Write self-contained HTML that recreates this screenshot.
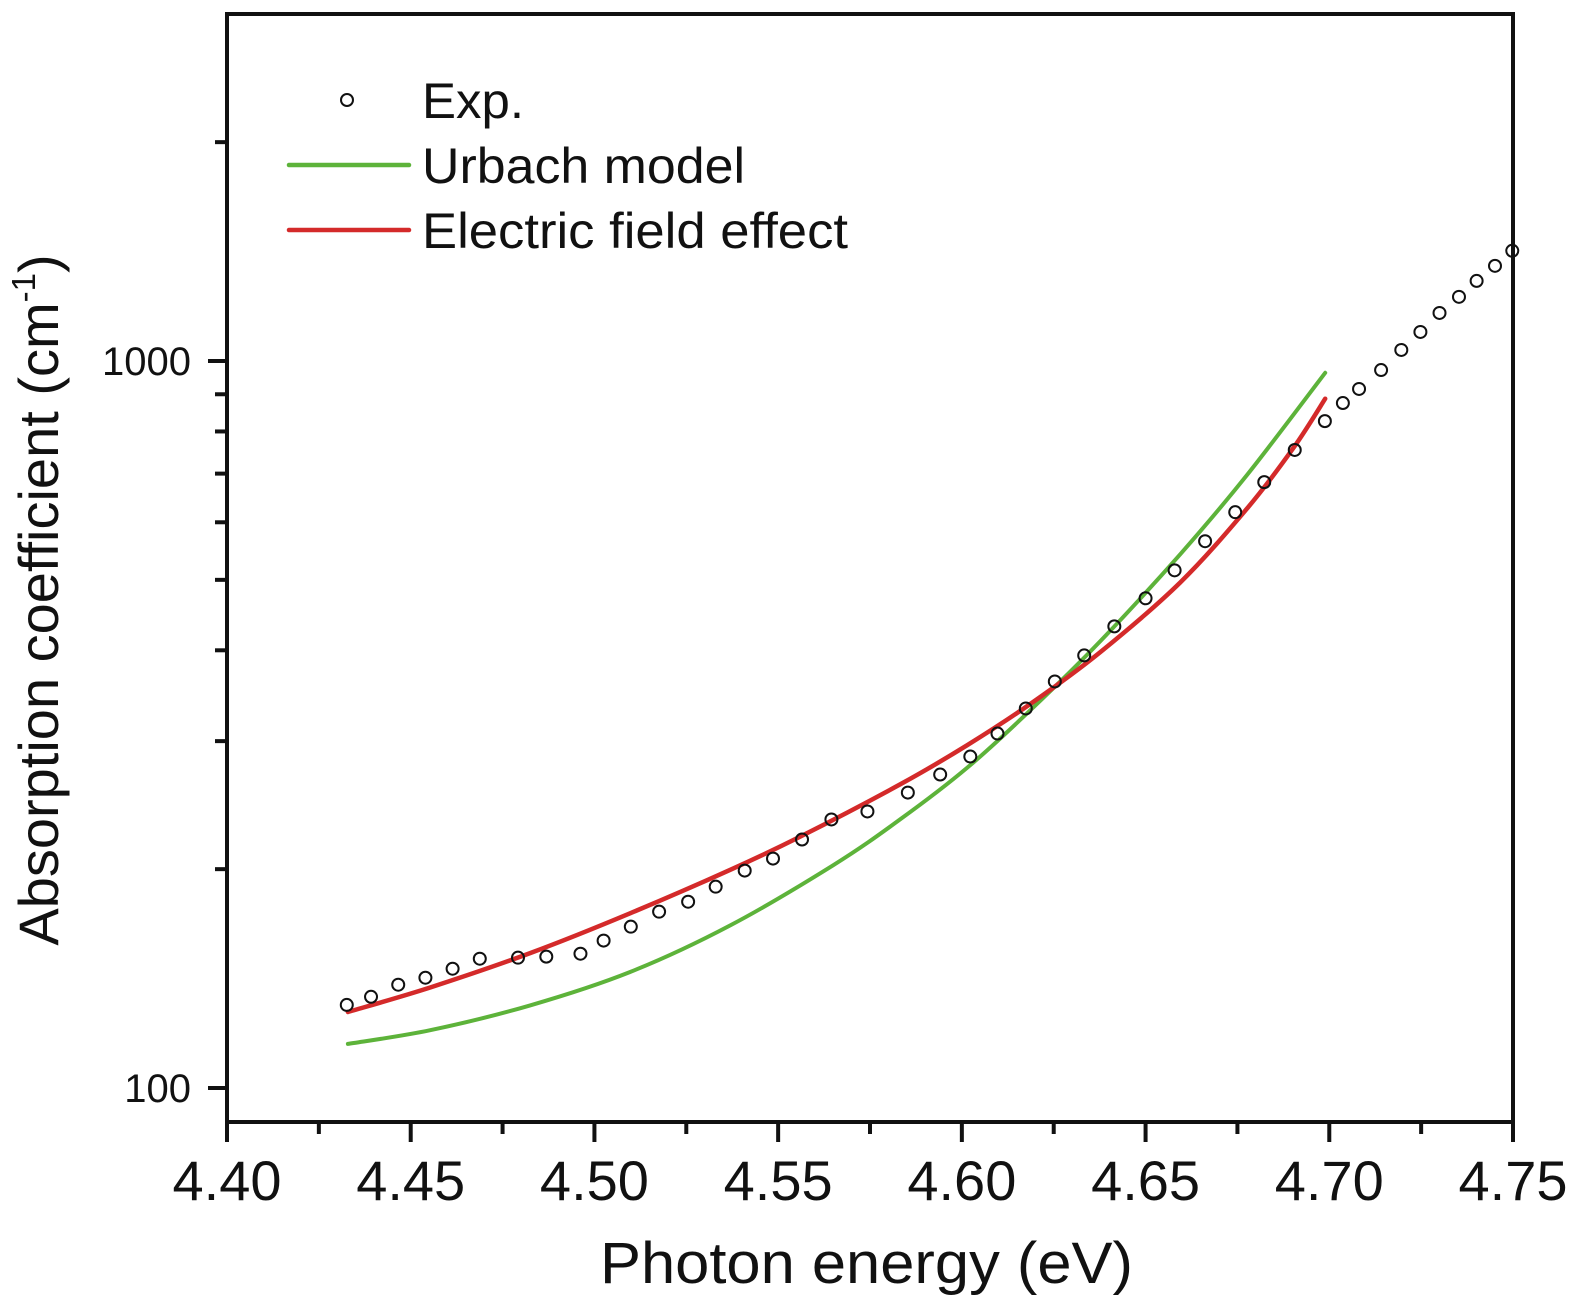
<!DOCTYPE html>
<html><head><meta charset="utf-8"><style>
html,body{margin:0;padding:0;background:#fff;}
svg{display:block;font-family:"Liberation Sans",Arial,sans-serif;}
</style></head><body>
<svg id="chart" width="1575" height="1307" viewBox="0 0 1575 1307">
<g id="axes"></g>
<g id="series"></g>
<g id="legend">
  <circle cx="347" cy="100" r="6" fill="#fff" stroke="#111" stroke-width="2"/>
  <text x="422" y="118" font-size="50" fill="#111" textLength="102" lengthAdjust="spacingAndGlyphs">Exp.</text>
  <line x1="289" y1="165" x2="409" y2="165" stroke="#5db33a" stroke-width="4.5" stroke-linecap="round"/>
  <text x="422" y="183" font-size="50" fill="#111" textLength="323" lengthAdjust="spacingAndGlyphs">Urbach model</text>
  <line x1="289" y1="230" x2="409" y2="230" stroke="#d42a2a" stroke-width="4.5" stroke-linecap="round"/>
  <text x="422" y="248" font-size="50" fill="#111" textLength="426" lengthAdjust="spacingAndGlyphs">Electric field effect</text>
</g>
<text x="600" y="1283" font-size="58" fill="#111" textLength="533" lengthAdjust="spacingAndGlyphs">Photon energy (eV)</text>
<text transform="translate(58,600) rotate(-90)" font-size="56" text-anchor="middle" fill="#111">Absorption coefficient (cm<tspan dy="-23" font-size="33">-1</tspan><tspan dy="23">)</tspan></text>
</svg>
<script>
const expEnergy=[4.4326,4.4392,4.4466,4.4540,4.4614,4.4688,4.4792,4.4869,4.4962,4.5025,4.5099,4.5176,4.5255,4.5330,4.5409,4.5486,4.5565,4.5645,4.5743,4.5853,4.5941,4.6023,4.6097,4.6174,4.6253,4.6333,4.6415,4.6500,4.6579,4.6662,4.6744,4.6823,4.6906,4.6988,4.7037,4.7081,4.7141,4.7196,4.7248,4.7300,4.7353,4.7401,4.7451,4.7498];
const expAlpha=[130.1,133.5,138.7,141.8,145.9,150.6,151.1,151.6,153.0,159.5,166.7,174.8,180.4,189.2,199.1,206.8,219.7,234.1,240.1,254.9,269.9,285.7,307.3,332.7,362.4,393.6,431.5,471.6,515.3,565.1,619.5,681.4,754.4,826.6,875.4,915.3,971.8,1035.6,1096.3,1164.4,1225.3,1288.8,1351.7,1417.8];
const urbachEnergy=[4.4329,4.4553,4.4825,4.5097,4.5369,4.5649,4.5832,4.6014,4.6194,4.6376,4.6594,4.6776,4.6989];
const urbachAlpha=[115.0,120.1,129.9,144.4,167.3,202.4,234.1,275.6,333.6,411.3,542.0,696.9,963.4];
const efeEnergy=[4.4329,4.4553,4.4825,4.5097,4.5369,4.5560,4.5832,4.6014,4.6194,4.6376,4.6594,4.6776,4.6902,4.6989];
const efeAlpha=[127.2,137.5,153.3,173.9,199.5,221.7,261.6,296.1,339.6,397.4,495.6,626.6,758.8,887.4];
const xTicks=[4.40,4.45,4.50,4.55,4.60,4.65,4.70,4.75];
const xTickLabels=["4.40","4.45","4.50","4.55","4.60","4.65","4.70","4.75"];
const yMajor=[100,1000];
const yMajorLabels=["100","1000"];
const yMinor=[200,300,400,500,600,700,800,900,2000];

const NS="http://www.w3.org/2000/svg";
const L=227,R=1513,T=14,B=1122;
function xs(e){return L+(e-4.40)/0.35*(R-L);}
function ys(v){return 361+(3-Math.log10(v))*727;}
function mk(tag,attrs,parent){const el=document.createElementNS(NS,tag);for(const k in attrs)el.setAttribute(k,attrs[k]);parent.appendChild(el);return el;}
const axes=document.getElementById('axes');
const series=document.getElementById('series');

let frame=mk('rect',{x:L,y:T,width:R-L,height:B-T,fill:'none',stroke:'#111','stroke-width':4},axes);



xTicks.forEach((t,i)=>{
  const x=xs(t);
  let tk=mk('line',{x1:x,y1:B,x2:x,y2:B+20,stroke:'#111','stroke-width':4},axes);
  
  
  let lb=mk('text',{x:x,y:1200,'font-size':56,'text-anchor':'middle',fill:'#111'},axes);
  lb.textContent=xTickLabels[i];
  
  
  if(i<xTicks.length-1){
    const xm=xs(t+0.025);
    let mt=mk('line',{x1:xm,y1:B,x2:xm,y2:B+12,stroke:'#111','stroke-width':4},axes);
    
    
  }
});
yMajor.forEach((v,i)=>{
  const y=ys(v);
  let tk=mk('line',{x1:L-19,y1:y,x2:L,y2:y,stroke:'#111','stroke-width':4},axes);
  
  
  let lb=mk('text',{x:191,y:y+14,'font-size':40,'text-anchor':'end',fill:'#111'},axes);
  lb.textContent=yMajorLabels[i];
  
  
});
yMinor.forEach(v=>{
  const y=ys(v);
  let tk=mk('line',{x1:L-12,y1:y,x2:L,y2:y,stroke:'#111','stroke-width':4},axes);
  
  
});

function path(E,A){
  const p=E.map((e,i)=>[xs(e),ys(A[i])]);
  let d='M'+p[0][0].toFixed(1)+','+p[0][1].toFixed(1);
  for(let i=0;i<p.length-1;i++){
    const p0=p[Math.max(0,i-1)],p1=p[i],p2=p[i+1],p3=p[Math.min(p.length-1,i+2)];
    const c1=[p1[0]+(p2[0]-p0[0])/6,p1[1]+(p2[1]-p0[1])/6];
    const c2=[p2[0]-(p3[0]-p1[0])/6,p2[1]-(p3[1]-p1[1])/6];
    d+=' C'+c1[0].toFixed(1)+','+c1[1].toFixed(1)+' '+c2[0].toFixed(1)+','+c2[1].toFixed(1)+' '+p2[0].toFixed(1)+','+p2[1].toFixed(1);
  }
  return d;
}
let ug=mk('path',{d:path(urbachEnergy,urbachAlpha),fill:'none',stroke:'#5db33a','stroke-width':4,'stroke-linejoin':'round','stroke-linecap':'round'},series);


let ef=mk('path',{d:path(efeEnergy,efeAlpha),fill:'none',stroke:'#d42a2a','stroke-width':4.5,'stroke-linejoin':'round','stroke-linecap':'round'},series);


expEnergy.forEach((e,i)=>{
  let c=mk('circle',{cx:xs(e),cy:ys(expAlpha[i]),r:6,fill:'none',stroke:'#111','stroke-width':2},series);
  
  
});
</script>
</body></html>
